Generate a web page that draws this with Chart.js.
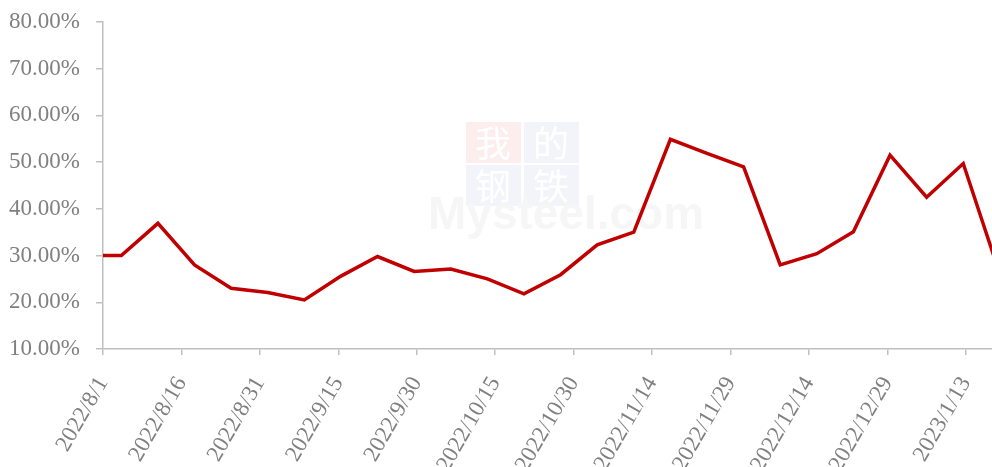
<!DOCTYPE html>
<html>
<head>
<meta charset="utf-8">
<script src="https://cdn.jsdelivr.net/npm/chart.js@4.4.0/dist/chart.umd.min.js"></script>
<style>
    html, body { margin: 0; padding: 0; background: #fff; }
</style>
</head>
<body>
<canvas id="myChart" width="992" height="467"></canvas>
<script>
// weekly dates (first and last are outside the visible range and get clipped)
const dates = [
    '2022/7/28', '2022/8/4', '2022/8/11', '2022/8/18', '2022/8/25',
    '2022/9/1', '2022/9/8', '2022/9/15', '2022/9/22', '2022/9/29',
    '2022/10/6', '2022/10/13', '2022/10/20', '2022/10/27',
    '2022/11/3', '2022/11/10', '2022/11/17', '2022/11/24',
    '2022/12/1', '2022/12/8', '2022/12/15', '2022/12/22', '2022/12/29',
    '2023/1/5', '2023/1/12', '2023/1/19'
];

// values in %
const valores = [
    30.0, 30.0, 36.9, 28.0, 23.0,
    22.1, 20.5, 25.6, 29.8, 26.6,
    27.1, 25.0, 21.8, 25.9,
    32.3, 35.0, 54.9, 51.9,
    49.0, 28.0, 30.4, 35.1, 51.5,
    42.5, 49.7, 26.0
];

const xTickLabels = [
    '2022/8/1', '2022/8/16', '2022/8/31', '2022/9/15', '2022/9/30',
    '2022/10/15', '2022/10/30', '2022/11/14', '2022/11/29',
    '2022/12/14', '2022/12/29', '2023/1/13'
];
const yTickValues = [10, 20, 30, 40, 50, 60, 70, 80];

const axisStart = '2022/8/1';
const axisEnd = '2023/1/18';

function dayOf(s) {
    const p = s.split('/').map(Number);
    const q = axisStart.split('/').map(Number);
    return (Date.UTC(p[0], p[1] - 1, p[2]) - Date.UTC(q[0], q[1] - 1, q[2])) / 86400000;
}

// Excel date axis puts each point in the middle of its day
const pontos = dates.map((d, i) => ({ x: dayOf(d) + 0.5, y: valores[i] }));

const fonte = { family: "'Liberation Serif', 'Times New Roman', serif", size: 23 };
const cinza = '#808080';
const linhaEixo = '#bfbfbf';

const marcaDagua = {
    id: 'marcaDagua',
    beforeDatasetsDraw(chart) {
        const ctx = chart.ctx;
        ctx.save();
        const boxes = [
            { t: '我', x: 466, y: 122, c: '#fdeeee' },
            { t: '的', x: 524, y: 122, c: '#f2f4f9' },
            { t: '钢', x: 466, y: 165, c: '#f2f4f9' },
            { t: '铁', x: 524, y: 165, c: '#f2f4f9' }
        ];
        boxes.forEach(b => {
            ctx.fillStyle = b.c;
            ctx.fillRect(b.x, b.y, 55, 41);
            ctx.fillStyle = '#ffffff';
            ctx.font = "36px 'Noto Sans CJK SC', serif";
            ctx.textAlign = 'center';
            ctx.textBaseline = 'middle';
            ctx.fillText(b.t, b.x + 27, b.y + 21);
        });
        ctx.fillStyle = '#f6f6f6';
        ctx.font = "bold 46px 'Liberation Sans', Arial, sans-serif";
        ctx.textAlign = 'left';
        ctx.textBaseline = 'alphabetic';
        ctx.fillText('Mysteel.com', 428, 229);
        ctx.restore();
    }
};

const config = {
    type: 'line',
    data: {
        datasets: [{
            label: 'rate',
            data: pontos,
            borderColor: '#C00000',
            borderWidth: 3.5,
            pointRadius: 0,
            tension: 0,
            fill: false
        }]
    },
    options: {
        responsive: false,
        animation: false,
        devicePixelRatio: 1,
        layout: { padding: { top: 22, right: 0, left: 0, bottom: 0 } },
        plugins: {
            legend: { display: false },
            tooltip: { enabled: false }
        },
        scales: {
            x: {
                type: 'linear',
                min: dayOf(axisStart),
                max: dayOf(axisEnd),
                afterBuildTicks: scale => {
                    scale.ticks = xTickLabels.map(d => ({ value: dayOf(d) }));
                },
                afterFit: scale => {
                    scale.height = 118;
                    scale.paddingLeft = 0;
                    scale.paddingRight = 0;
                },
                ticks: {
                    autoSkip: false,
                    minRotation: 60,
                    maxRotation: 60,
                    padding: 17,
                    color: cinza,
                    font: fonte,
                    callback: (value, index) => xTickLabels[index]
                },
                grid: {
                    drawOnChartArea: false,
                    drawTicks: true,
                    tickLength: 6,
                    color: linhaEixo,
                    lineWidth: 1.5
                },
                border: { color: linhaEixo, width: 1.5 }
            },
            y: {
                min: 10,
                max: 80,
                afterBuildTicks: scale => {
                    scale.ticks = yTickValues.map(v => ({ value: v }));
                },
                afterFit: scale => {
                    scale.width = 103;
                    // keep the plot top where the layout padding puts it
                    scale.paddingTop = 0;
                    scale.paddingBottom = 0;
                },
                ticks: {
                    padding: 16,
                    color: cinza,
                    font: fonte,
                    callback: value => value.toFixed(2) + '%'
                },
                grid: {
                    drawOnChartArea: false,
                    drawTicks: true,
                    tickLength: 7,
                    color: linhaEixo,
                    lineWidth: 1.5
                },
                border: { color: linhaEixo, width: 1.5 }
            }
        }
    },
    plugins: [marcaDagua]
};

const myChart = new Chart(document.getElementById('myChart'), config);
</script>
</body>
</html>
